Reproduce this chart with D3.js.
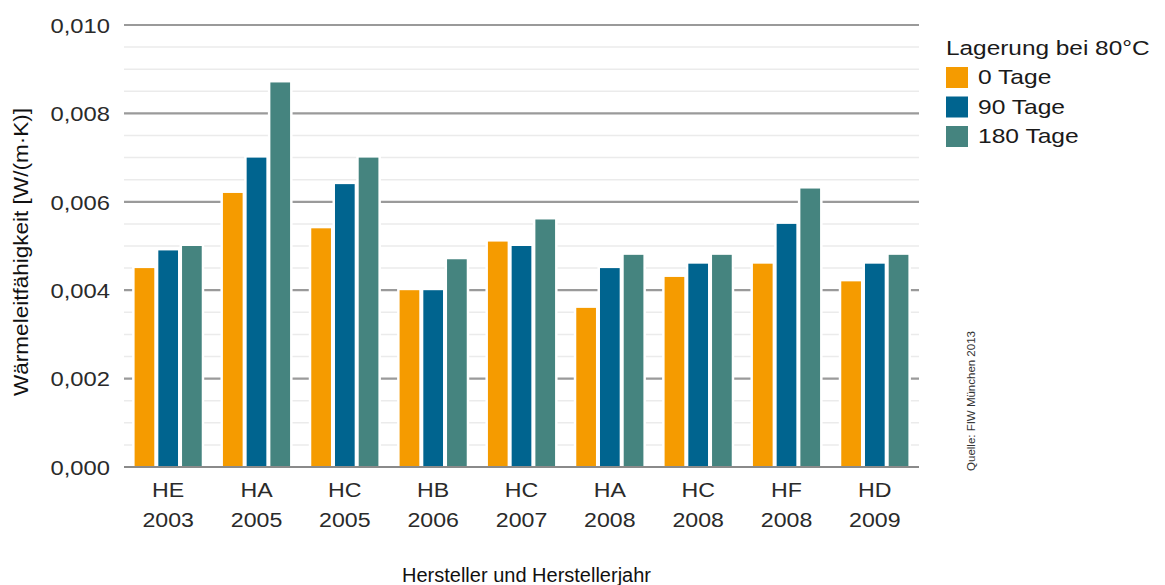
<!DOCTYPE html>
<html><head><meta charset="utf-8">
<script src="https://cdn.jsdelivr.net/npm/d3@7"></script>
<style>body{margin:0;background:#fff;}svg{display:block;font-family:"Liberation Sans",Arial,sans-serif;}</style>
</head><body>
<svg id="c" width="1165" height="585"></svg>
<script>
const manufacturers = ["HE","HA","HC","HB","HC","HA","HC","HF","HD"];
const years = ["2003","2005","2005","2006","2007","2008","2008","2008","2009"];
const seriesNames = ["0 Tage","90 Tage","180 Tage"];
const days0 =   [0.0045,0.0062,0.0054,0.0040,0.0051,0.0036,0.0043,0.0046,0.0042];
const days90 =  [0.0049,0.0070,0.0064,0.0040,0.0050,0.0045,0.0046,0.0055,0.0046];
const days180 = [0.0050,0.0087,0.0070,0.0047,0.0056,0.0048,0.0048,0.0063,0.0048];
const yTicks = [0,0.002,0.004,0.006,0.008,0.010];
const colors = ["#F59B00","#00648F","#45847F"];

const svg = d3.select("#c");
const pLeft = 124, pRight = 919, pTop = 25, pBottom = 467;
const cats = manufacturers.map((m,i)=>i);
const x = d3.scaleBand().domain(cats).range([pLeft,pRight]).paddingInner(0.24).paddingOuter(0.12);
const xs = d3.scaleBand().domain(seriesNames).range([0,x.bandwidth()]).paddingInner(0.17);
const y = d3.scaleLinear().domain([0,0.010]).range([pBottom,pTop]);

// minor grid
const minor = d3.range(0,0.0101,0.0005).filter(v=>Math.round(v*10000)%20!==0);
svg.append("g").selectAll("line").data(minor).join("line")
  .attr("x1",pLeft).attr("x2",pRight).attr("y1",d=>y(d)).attr("y2",d=>y(d))
  .attr("stroke","#ebebeb").attr("stroke-width",1.5);
// major grid
svg.append("g").selectAll("line").data(yTicks.filter(v=>v>0)).join("line")
  .attr("x1",pLeft).attr("x2",pRight).attr("y1",d=>y(d)).attr("y2",d=>y(d))
  .attr("stroke","#9a9a9a").attr("stroke-width",2.2);

// bars: white outline masks grid near bars
const series = [days0,days90,days180];
series.forEach((vals,si)=>{
  svg.append("g").selectAll("rect").data(vals).join("rect")
    .attr("x",(d,i)=>x(i)+xs(seriesNames[si]))
    .attr("width",xs.bandwidth())
    .attr("y",d=>y(d))
    .attr("height",d=>y(0)-y(d))
    .attr("fill","#fff")
    .attr("stroke","#fff").attr("stroke-width",5);
});
series.forEach((vals,si)=>{
  svg.append("g").selectAll("rect").data(vals).join("rect")
    .attr("x",(d,i)=>x(i)+xs(seriesNames[si]))
    .attr("width",xs.bandwidth())
    .attr("y",d=>y(d))
    .attr("height",d=>y(0)-y(d))
    .attr("fill",colors[si]);
});

// baseline
svg.append("line").attr("x1",pLeft).attr("x2",pRight).attr("y1",y(0)).attr("y2",y(0))
  .attr("stroke","#8a8a8a").attr("stroke-width",2.2);

// y tick labels
const yAxis = d3.axisLeft(y).tickValues(yTicks).tickSize(0).tickPadding(14)
  .tickFormat(d=>d3.format(".3f")(d).replace(".",","));
const ga = svg.append("g").attr("transform",`translate(${pLeft},0)`).call(yAxis);
ga.select(".domain").remove();
ga.selectAll("text").attr("font-size",20.5).attr("fill","#2a2a2a")
  .attr("font-family","Liberation Sans, Arial, sans-serif")
  .attr("x",0).attr("dy","0.36em").attr("transform","translate(-14,0) scale(1.16,1)");

// x labels
const gx = svg.append("g");
cats.forEach(i=>{
  const cx = x(i)+x.bandwidth()/2;
  gx.append("text").attr("transform",`translate(${cx},497) scale(1.13,1)`).attr("text-anchor","middle")
    .attr("font-size",20.5).attr("fill","#2a2a2a").text(manufacturers[i]);
  gx.append("text").attr("transform",`translate(${cx},527) scale(1.13,1)`).attr("text-anchor","middle")
    .attr("font-size",20.5).attr("fill","#2a2a2a").text(years[i]);
});

// axis titles
svg.append("text").attr("x",402).attr("y",582).attr("text-anchor","start")
  .attr("font-size",20).attr("fill","#111").text("Hersteller und Herstellerjahr");
svg.append("text").attr("transform","translate(28,252) rotate(-90) scale(1.1,1)").attr("text-anchor","middle")
  .attr("font-size",20.5).attr("fill","#111").text("Wärmeleitfähigkeit [W/(m·K)]");

// legend
const lg = svg.append("g");
lg.append("text").attr("transform","translate(946,55) scale(1.19,1)").attr("font-size",20.5).attr("fill","#1a1a1a").text("Lagerung bei 80°C");
seriesNames.forEach((n,i)=>{
  const bl = 84 + i*29.5;
  lg.append("rect").attr("x",946).attr("y",bl-17).attr("width",22).attr("height",21).attr("fill",colors[i]);
  lg.append("text").attr("transform",`translate(978,${bl}) scale(1.2,1)`).attr("font-size",20.5).attr("fill","#1a1a1a").text(n);
});

// source
svg.append("text").attr("transform","translate(975,401) rotate(-90) scale(1.15,1)").attr("text-anchor","middle")
  .attr("font-size",10).attr("fill","#333").text("Quelle: FIW München 2013");
</script>
</body></html>
